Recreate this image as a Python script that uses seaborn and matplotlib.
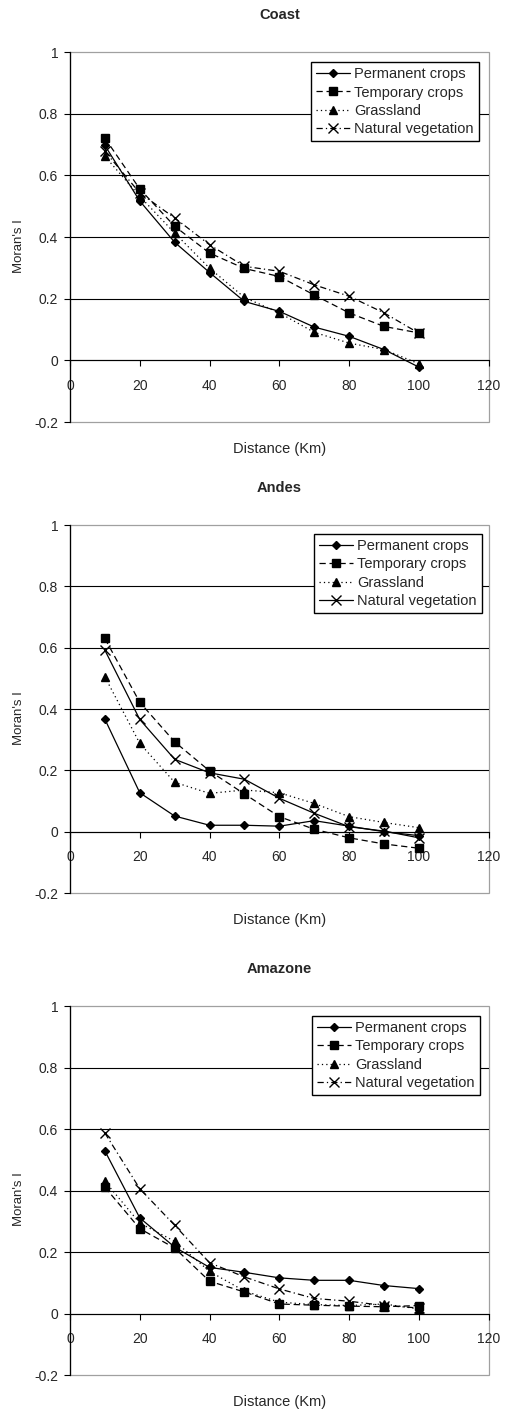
import pandas as pd
import matplotlib.pyplot as plt
import seaborn as sns
from matplotlib.patches import Rectangle

# Moran's I correlograms by region and land use
distance = [10, 20, 30, 40, 50, 60, 70, 80, 90, 100]
land_uses = ["Permanent crops", "Temporary crops", "Grassland", "Natural vegetation"]
regions = ["Coast", "Andes", "Amazone"]

coast_permanent = [0.697, 0.517, 0.383, 0.285, 0.191, 0.159, 0.108, 0.078, 0.035, -0.022]
coast_temporary = [0.721, 0.556, 0.435, 0.348, 0.298, 0.272, 0.212, 0.154, 0.110, 0.089]
coast_grassland = [0.662, 0.532, 0.413, 0.299, 0.204, 0.154, 0.091, 0.056, 0.035, -0.011]
coast_natural = [0.678, 0.543, 0.462, 0.375, 0.305, 0.289, 0.245, 0.208, 0.154, 0.088]

andes_permanent = [0.367, 0.127, 0.051, 0.021, 0.021, 0.018, 0.036, 0.018, 0.000, -0.013]
andes_temporary = [0.630, 0.422, 0.293, 0.198, 0.123, 0.049, 0.008, -0.020, -0.040, -0.054]
andes_grassland = [0.505, 0.288, 0.161, 0.125, 0.136, 0.127, 0.092, 0.049, 0.030, 0.013]
andes_natural = [0.592, 0.366, 0.236, 0.192, 0.171, 0.109, 0.060, 0.016, 0.002, -0.020]

amazone_permanent = [0.529, 0.311, 0.216, 0.150, 0.134, 0.116, 0.108, 0.108, 0.091, 0.081]
amazone_temporary = [0.411, 0.276, 0.213, 0.105, 0.070, 0.031, 0.027, 0.024, 0.022, 0.026]
amazone_grassland = [0.430, 0.294, 0.235, 0.137, 0.073, 0.037, 0.029, 0.026, 0.031, 0.015]
amazone_natural = [0.587, 0.406, 0.287, 0.165, 0.119, 0.080, 0.049, 0.040, 0.026, 0.018]

series = {
    "Coast": [coast_permanent, coast_temporary, coast_grassland, coast_natural],
    "Andes": [andes_permanent, andes_temporary, andes_grassland, andes_natural],
    "Amazone": [amazone_permanent, amazone_temporary, amazone_grassland, amazone_natural],
}

rows = []
for reg in regions:
    for lu, vals in zip(land_uses, series[reg]):
        for d, v in zip(distance, vals):
            rows.append({"region": reg, "land": lu, "distance": d, "moran": v})
df = pd.DataFrame(rows)

yticks = [-0.2, 0, 0.2, 0.4, 0.6, 0.8, 1]
ytick_labels = ["-0.2", "0", "0.2", "0.4", "0.6", "0.8", "1"]
xticks = [0, 20, 40, 60, 80, 100, 120]

sns.set_style("white")
plt.rcParams["font.family"] = ["Liberation Sans", "DejaVu Sans"]

markers = {"Permanent crops": "D", "Temporary crops": "s", "Grassland": "^", "Natural vegetation": "x"}
msize = {"Permanent crops": 4.5, "Temporary crops": 5.8, "Grassland": 5.8, "Natural vegetation": 7}
dash = (0, (5, 3))
dot = (0, (1, 2.5))
dashdot = (0, (5, 2.5, 1, 2.5))

styles = {
    "Coast": ["-", dash, dot, dashdot],
    "Andes": ["-", dash, dot, "-"],
    "Amazone": ["-", dash, dot, dashdot],
}

# axes positions: left, bottom, width, height
positions = {
    "Coast": [0.138, 0.7009, 0.826, 0.2622],
    "Andes": [0.138, 0.3671, 0.826, 0.2608],
    "Amazone": [0.138, 0.0255, 0.826, 0.2615],
}
legend_anchor = {"Coast": (0.976, 0.973), "Andes": (0.983, 0.976), "Amazone": (0.978, 0.973)}

fig = plt.figure(figsize=(5.07, 14.11), dpi=100)

for reg in regions:
    ax = fig.add_axes(positions[reg])
    sub = df[df["region"] == reg]
    for lu, ls in zip(land_uses, styles[reg]):
        d = sub[sub["land"] == lu]
        sns.lineplot(x=d["distance"], y=d["moran"], ax=ax, color="black",
                     marker=markers[lu], markersize=msize[lu], markeredgewidth=1.0,
                     markeredgecolor="black", markerfacecolor="black",
                     linestyle=ls, linewidth=0.9, label=lu, errorbar=None, zorder=3)

    ax.set_xlim(0, 120)
    ax.set_ylim(-0.2, 1)
    ax.set_xticks(xticks)
    ax.set_xticklabels([str(t) for t in xticks])
    ax.set_yticks(yticks)
    ax.set_yticklabels(ytick_labels)

    ax.grid(axis="y", color="black", linewidth=0.8)
    ax.grid(axis="x", visible=False)
    for gl, loc in zip(ax.get_ygridlines(), yticks):
        if loc in (-0.2, 1):
            gl.set_visible(False)
    ax.set_axisbelow(True)

    # grey plot-area border
    ax.add_patch(Rectangle((0, 0), 1, 1, transform=ax.transAxes, fill=False,
                           edgecolor="#a0a0a0", linewidth=0.9, clip_on=False, zorder=0.5))

    ax.spines["bottom"].set_position(("data", 0))
    ax.spines["bottom"].set_color("black")
    ax.spines["bottom"].set_linewidth(0.8)
    ax.spines["left"].set_color("black")
    ax.spines["left"].set_linewidth(0.9)
    ax.spines["top"].set_visible(False)
    ax.spines["right"].set_visible(False)

    ax.tick_params(axis="y", direction="out", length=4.5, width=0.8, color="black",
                   labelsize=10, pad=4, left=True)
    ax.tick_params(axis="x", direction="out", length=4, width=0.8, color="black",
                   labelsize=10, pad=9.5, bottom=True)

    ax.set_title(reg, fontsize=10.5, fontweight="bold", pad=24)
    ax.set_xlabel("Distance (Km)", fontsize=10.5)
    ax.xaxis.set_label_coords(0.5, -0.055)
    ax.set_ylabel("Moran's I", fontsize=9.5)
    ax.yaxis.set_label_coords(-0.107, 0.476)

    leg = ax.legend(loc="upper right", bbox_to_anchor=legend_anchor[reg], borderaxespad=0,
                    fontsize=10.5, frameon=True, fancybox=False, edgecolor="black",
                    framealpha=1, handlelength=2.3, handletextpad=0.3,
                    labelspacing=0.3, borderpad=0.35)
    leg.get_frame().set_linewidth(1.0)

fig.savefig("out.png", dpi=100)
